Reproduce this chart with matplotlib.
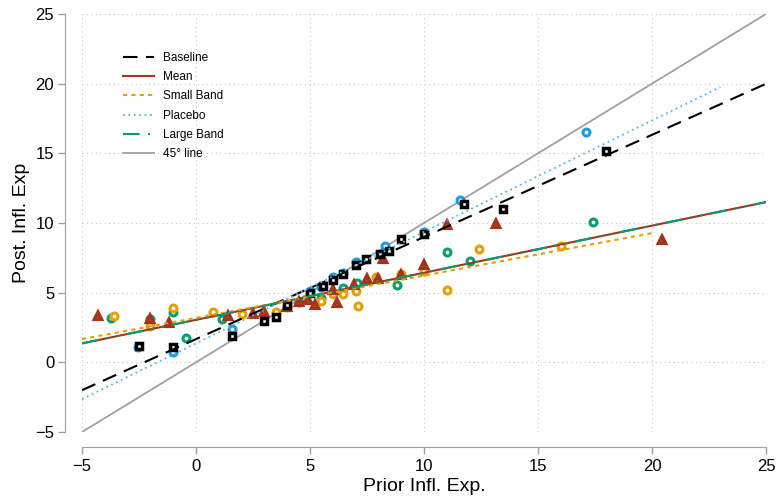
import numpy as np
import matplotlib.pyplot as plt

plt.rcParams['font.family'] = ['Liberation Sans', 'DejaVu Sans']

# scatter points (prior, posterior) per treatment
base_x = [-2.5, -1.0, 1.6, 3.0, 3.5, 4.0, 5.0, 5.55, 6.0, 6.45, 7.0, 7.45, 8.05, 8.45, 9.0, 10.0, 11.75, 13.45, 18.0]
base_y = [1.2, 1.1, 1.9, 2.95, 3.25, 4.1, 5.0, 5.45, 5.9, 6.35, 7.0, 7.4, 7.75, 8.0, 8.85, 9.2, 11.35, 11.0, 15.15]

plac_x = [-2.55, -1.0, 1.6, 5.0, 5.5, 6.0, 6.45, 7.0, 8.3, 10.0, 11.6, 17.1]
plac_y = [1.1, 0.75, 2.4, 5.1, 5.4, 6.1, 6.4, 7.2, 8.35, 9.35, 11.65, 16.5]

small_x = [-3.6, -2.0, -1.0, 0.75, 2.0, 3.5, 4.0, 5.5, 6.0, 6.45, 7.0, 7.1, 7.9, 9.0, 10.0, 11.0, 12.4, 16.0]
small_y = [3.3, 2.6, 3.9, 3.6, 3.45, 3.6, 4.0, 4.4, 4.9, 4.9, 5.1, 4.05, 6.1, 6.35, 6.55, 5.2, 8.1, 8.35]

large_x = [-3.75, -2.0, -1.0, -0.45, 1.15, 4.5, 5.5, 6.45, 7.05, 8.8, 11.0, 12.0, 17.4]
large_y = [3.2, 3.1, 3.6, 1.75, 3.1, 4.3, 4.6, 5.3, 5.7, 5.55, 7.9, 7.3, 10.05]

mean_x = [-4.3, -2.0, -1.2, 1.4, 2.5, 3.0, 4.0, 4.5, 4.9, 5.2, 6.0, 6.2, 6.95, 7.5, 8.0, 8.2, 9.0, 10.0, 11.0, 13.15, 20.45]
mean_y = [3.3, 3.1, 2.8, 3.3, 3.5, 3.6, 4.0, 4.35, 4.5, 4.1, 5.2, 4.25, 5.55, 6.0, 6.0, 7.4, 6.25, 7.0, 9.85, 9.9, 8.75]

# fitted lines: intercept, slope, x range
fits = {
    'Baseline':   (1.667, 0.733, -5, 25),
    'Mean':       (3.05, 0.338, -5, 25),
    'Small Band': (3.19, 0.304, -5, 20),
    'Placebo':    (1.36, 0.80, -5, 23),
    'Large Band': (3.05, 0.338, -5, 25),
}

c_base = 'black'
c_mean = '#a3351c'
c_small = '#e69f00'
c_plac = '#56b4e9'
c_plac_m = '#1d9be0'
c_large = '#009e73'
c_45 = '#a0a0a0'

fig = plt.figure(figsize=(7.78, 4.96), dpi=100)
ax = fig.add_axes([82 / 778, 1 - 432 / 496, 684 / 778, 418 / 496])

# scatter
ax.plot(large_x, large_y, 'o', ms=5.0, mew=2.2, mfc='white', mec=c_large, ls='none', zorder=3, clip_on=False)
ax.plot(small_x, small_y, 'o', ms=5.0, mew=2.2, mfc='white', mec=c_small, ls='none', zorder=3, clip_on=False)
ax.plot(plac_x, plac_y, 'o', ms=5.0, mew=2.2, mfc='white', mec=c_plac_m, ls='none', zorder=3, clip_on=False)
ax.plot(mean_x, mean_y, '^', ms=5.0, mew=3.0, mfc='white', mec=c_mean, ls='none', zorder=3, clip_on=False)
ax.plot(base_x, base_y, 's', ms=5.0, mew=2.5, mfc='white', mec=c_base, ls='none', zorder=3, clip_on=False)


def fit_line(name):
    a, b, x0, x1 = fits[name]
    xs = np.array([x0, x1])
    return xs, a + b * xs


x, y = fit_line('Baseline')
ax.plot(x, y, color=c_base, lw=1.5, ls=(0, (7, 4)), label='Baseline', zorder=4)
x, y = fit_line('Mean')
ax.plot(x, y, color=c_mean, lw=1.5, ls='-', label='Mean', zorder=4)
x, y = fit_line('Small Band')
ax.plot(x, y, color=c_small, lw=1.5, ls=(0, (2, 2)), label='Small Band', zorder=4)
x, y = fit_line('Placebo')
ax.plot(x, y, color=c_plac, lw=1.3, ls=(0, (1, 2)), label='Placebo', zorder=4)
x, y = fit_line('Large Band')
ax.plot(x, y, color=c_large, lw=1.5, ls=(0, (8, 4, 1, 4, 1, 4)), label='Large Band', zorder=4)
ax.plot([-5, 25], [-5, 25], color=c_45, lw=1.3, label='45° line', zorder=2)

ax.set_xlim(-5, 25)
ax.set_ylim(-5, 25)
ax.set_xticks(np.arange(-5, 26, 5))
ax.set_yticks(np.arange(-5, 26, 5))
ax.set_xticklabels(['\u22125', '0', '5', '10', '15', '20', '25'])
ax.set_yticklabels(['\u22125', '0', '5', '10', '15', '20', '25'])
ax.grid(True, ls=(0, (1, 3)), color='#c8c8c8', lw=0.8)
ax.set_axisbelow(True)

for s in ['top', 'right']:
    ax.spines[s].set_visible(False)
ax.spines['left'].set_position(('outward', 12))
ax.spines['bottom'].set_position(('outward', 11))
ax.spines['left'].set_color('#a0a0a0')
ax.spines['bottom'].set_color('#a0a0a0')
ax.tick_params(axis='both', colors='#a0a0a0', labelcolor='black', labelsize=12, length=5, width=1)
ax.tick_params(axis='y', pad=3)

ax.set_xlabel('Prior Infl. Exp.', fontsize=14, labelpad=3)
ax.set_ylabel('Post. Infl. Exp', fontsize=14, labelpad=4)

ax.legend(loc='upper left', bbox_to_anchor=(0.045, 0.935), frameon=False, fontsize=8.5,
          handlelength=2.6, labelspacing=0.62, handletextpad=0.75)

fig.savefig('out.png', dpi=100)
